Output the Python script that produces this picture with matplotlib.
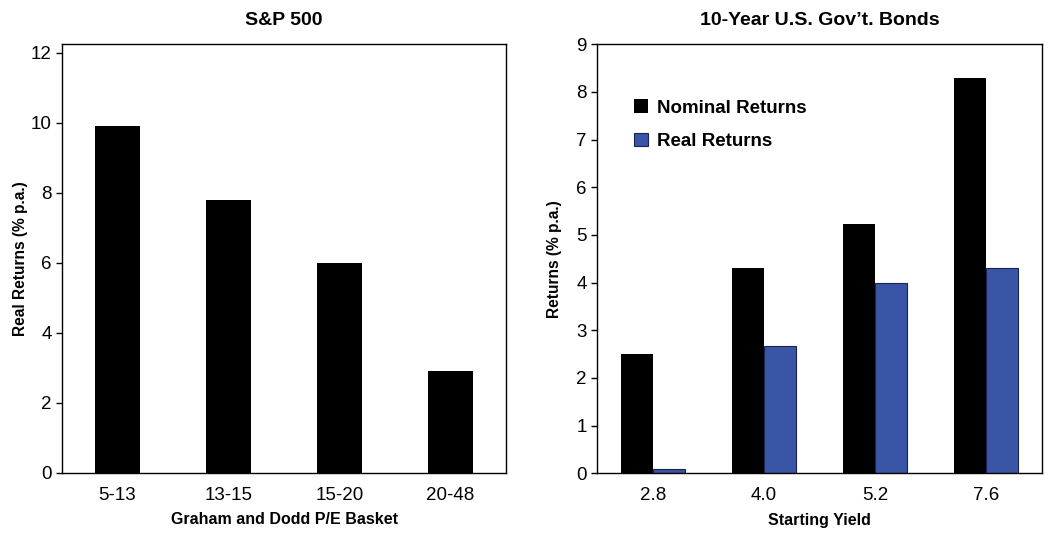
import matplotlib
matplotlib.use("Agg")
import matplotlib.pyplot as plt
import numpy as np

plt.rcParams['font.family'] = ['Liberation Sans', 'DejaVu Sans']

# S&P 500 panel
pe_baskets = ['5-13', '13-15', '15-20', '20-48']
sp_real = [9.9, 7.8, 6.0, 2.9]

# Bond panel
start_yield = ['2.8', '4.0', '5.2', '7.6']
bond_nominal = [2.5, 4.3, 5.22, 8.3]
bond_real = [0.1, 2.68, 4.0, 4.3]

fig = plt.figure(figsize=(10.56, 5.56), dpi=100)
ax1 = fig.add_axes([0.0587, 0.1493, 0.4205, 0.7716])
ax2 = fig.add_axes([0.5656, 0.1487, 0.4208, 0.7716])

blue = '#3a55a6'

# left chart
x = np.arange(len(pe_baskets))
ax1.bar(x, sp_real, width=0.4, color='black')
ax1.set_xlim(-0.5, 3.5)
ax1.set_ylim(0, 12.25)
ax1.set_yticks([0, 2, 4, 6, 8, 10, 12])
ax1.set_xticks(x)
ax1.set_xticklabels(pe_baskets)
ax1.set_title('S&P 500', fontsize=14, fontweight='bold', pad=14)
ax1.set_xlabel('Graham and Dodd P/E Basket', fontsize=11.5, fontweight='bold')
ax1.set_ylabel('Real Returns (% p.a.)', fontsize=11.2, fontweight='bold')
ax1.yaxis.set_label_coords(-0.077, 0.5)

# right chart
w = 0.29
ax2.bar(x - w / 2, bond_nominal, width=w, color='black', label='Nominal Returns')
ax2.bar(x + w / 2, bond_real, width=w, color=blue, edgecolor='#1a2450',
        linewidth=0.8, label='Real Returns')
ax2.set_xlim(-0.5, 3.5)
ax2.set_ylim(0, 9)
ax2.set_yticks(range(10))
ax2.set_xticks(x)
ax2.set_xticklabels(start_yield)
ax2.set_title('10-Year U.S. Gov\u2019t. Bonds', fontsize=14, fontweight='bold', pad=14)
ax2.set_xlabel('Starting Yield', fontsize=11.5, fontweight='bold')
ax2.set_ylabel('Returns (% p.a.)', fontsize=11.2, fontweight='bold')
ax2.yaxis.set_label_coords(-0.080, 0.5)
ax2.legend(loc='upper left', bbox_to_anchor=(0.083, 0.872), frameon=False,
           borderaxespad=0, borderpad=0, handlelength=0.75, handleheight=0.75,
           handletextpad=0.45, labelspacing=0.85,
           prop={'size': 13.5, 'weight': 'bold'})

for ax in (ax1, ax2):
    ax.tick_params(axis='y', labelsize=13.5, length=4, width=1, direction='out')
    ax.tick_params(axis='x', labelsize=13.5, length=0, pad=10)
    ax.xaxis.set_label_coords(0.5, -0.092)
    for s in ax.spines.values():
        s.set_linewidth(1)

fig.savefig('out.png', dpi=100)
